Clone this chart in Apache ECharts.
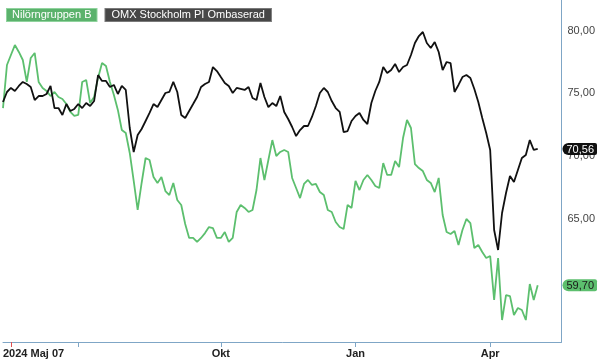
<!DOCTYPE html>
<html>
<head>
<meta charset="utf-8">
<script src="https://cdn.jsdelivr.net/npm/echarts@6/dist/echarts.min.js"></script>
<style>
html,body{margin:0;padding:0;background:#fff;}
#chart{width:600px;height:359px;}
</style>
</head>
<body>
<div id="chart"></div>
<script>
// Series names
const seriesNames = ['Nilörngruppen B', 'OMX Stockholm PI Ombaserad'];

// Nilörngruppen B (rebased), sampled along the trading-day axis
const nilorn = [73.82,77.25,78.05,78.84,78.29,77.65,75.90,77.81,78.21,75.90,75.42,75.18,74.78,75.10,74.70,74.54,74.14,73.51,73.19,73.27,
75.90,76.06,74.22,74.70,76.22,77.41,77.17,75.90,74.86,73.67,72.07,71.83,70.24,68.01,65.70,67.85,69.84,69.68,68.33,67.85,
68.33,67.21,66.89,67.85,66.49,66.10,64.58,63.47,63.47,63.15,63.47,63.86,64.34,64.26,63.47,63.47,63.94,63.15,63.47,65.54,
66.10,65.86,65.54,65.70,67.29,69.84,68.09,69.68,71.27,70.00,70.32,70.48,70.32,68.25,67.45,66.65,67.77,68.09,67.69,67.77,
67.13,66.89,65.70,65.54,64.74,64.34,64.18,66.10,65.86,68.01,67.29,68.09,68.49,68.09,67.61,67.45,69.44,68.49,68.49,69.60,
69.12,71.43,72.87,72.23,69.36,69.04,68.80,68.09,67.85,67.13,68.25,65.30,63.94,63.78,64.02,62.91,64.10,64.98,64.66,62.67,
62.91,62.35,61.87,62.03,58.53,61.87,56.93,58.92,58.84,57.33,57.89,57.73,56.93,59.80,58.53,59.70];

// OMX Stockholm PI Ombaserad
const omx = [74.30,75.10,75.42,75.18,75.58,75.90,75.74,75.50,74.46,74.78,74.78,74.94,75.58,73.82,73.82,73.27,74.14,73.59,73.75,74.14,
73.82,74.22,73.98,74.38,76.45,75.98,75.98,75.50,75.66,74.94,75.58,75.26,72.23,70.32,71.67,72.15,72.79,73.43,74.14,73.90,
74.46,75.02,75.10,75.90,75.10,73.27,73.03,73.59,74.14,74.70,75.50,75.74,75.90,77.09,76.77,76.29,75.82,75.58,75.02,75.42,
75.34,75.26,75.50,74.62,74.46,75.82,74.70,73.90,74.22,73.98,74.78,73.51,72.95,72.31,71.59,72.07,72.39,72.39,73.11,73.98,
75.02,75.42,75.10,74.38,73.82,73.51,71.91,71.99,72.79,73.19,73.43,72.87,72.55,74.22,75.18,75.90,77.09,76.61,76.85,77.33,
76.69,77.09,77.25,78.05,79.00,79.56,79.88,79.00,78.61,79.08,78.29,76.85,77.49,77.41,75.10,75.66,76.29,76.45,76.22,75.34,
74.30,73.03,71.83,70.48,64.10,62.51,65.46,67.05,68.41,67.93,68.88,69.84,70.08,71.27,70.48,70.56];

// x axis: trading-day slots (data + empty room to the right edge)
const slotCount = 142;
const categories = Array.from({length: slotCount}, (_, i) => 'd' + i);
const tickIndex = [19, 55, 89, 123];
const tickLabels = ['', 'Okt', 'Jan', 'Apr'];
const startLabel = '2024 Maj 07';
const startTickIndex = 2;

// y axis
const yMin = 55.18, yMax = 82.43;
const yTicks = [65, 70, 75, 80];

const GREEN = '#5cbf6e';
const BLACK = '#111111';
const AXIS = '#7fa6c6';

const fmt = v => v.toFixed(2).replace('.', ',');
const lastVals = [nilorn[nilorn.length - 1], omx[omx.length - 1]];

const chart = echarts.init(document.getElementById('chart'), null, {renderer: 'canvas'});
chart.setOption({
  animation: false,
  backgroundColor: '#fff',
  grid: {left: 0, right: 35, top: 0, bottom: 17, containLabel: false},
  legend: {
    left: -3, top: 3, icon: 'none', itemWidth: 0, itemHeight: 0, itemGap: 3,
    selectedMode: false,
    textStyle: {fontFamily: 'Liberation Sans, Arial', fontSize: 11, color: '#fff'},
    data: [
      {name: seriesNames[0], textStyle: {backgroundColor: '#5bb26c', borderColor: '#8fd39d', borderWidth: 1, padding: [1, 5, 0, 5], color: '#fff'}},
      {name: seriesNames[1], textStyle: {backgroundColor: '#474747', borderColor: '#7a7a7a', borderWidth: 1, padding: [1, 6, 0, 6], color: '#fff'}}
    ]
  },
  xAxis: [{
    type: 'category', data: categories, boundaryGap: false,
    axisLine: {show: true, lineStyle: {color: AXIS, width: 1}},
    axisTick: {show: true, length: 5, lineStyle: {color: AXIS},
      interval: (i) => tickIndex.includes(i)},
    axisLabel: {
      interval: (i) => tickIndex.includes(i) && tickLabels[tickIndex.indexOf(i)] !== '',
      formatter: (v, i) => { const k = tickIndex.indexOf(i); return k >= 0 ? tickLabels[k] : ''; },
      fontFamily: 'Liberation Sans, Arial', fontSize: 11, fontWeight: 'bold', color: '#222', margin: 6
    },
    splitLine: {show: false}
  }, {
    type: 'category', data: categories, boundaryGap: false, position: 'bottom',
    axisLine: {show: true, lineStyle: {color: AXIS, opacity: 0}},
    axisTick: {show: true, length: 5, lineStyle: {color: '#e05050', width: 1},
      interval: (i) => i === startTickIndex},
    axisLabel: {
      interval: (i) => i === 0,
      formatter: (v, i) => i === 0 ? startLabel : '',
      align: 'left',
      fontFamily: 'Liberation Sans, Arial', fontSize: 11, fontWeight: 'bold', color: '#222', margin: 6
    },
    splitLine: {show: false}
  }],
  yAxis: [{
    type: 'value', position: 'right', min: yMin, max: yMax,
    axisLine: {show: true, lineStyle: {color: AXIS, width: 1}},
    axisTick: {show: false},
    splitLine: {show: false},
    axisLabel: {customValues: yTicks, formatter: v => fmt(v),
      fontFamily: 'Liberation Sans, Arial', fontSize: 11, color: '#444', margin: 6}
  }, {
    type: 'value', position: 'right', min: yMin, max: yMax,
    axisLine: {show: false}, axisTick: {show: false}, splitLine: {show: false},
    axisLabel: {
      customValues: lastVals,
      margin: 1,
      formatter: v => (v === lastVals[0] ? '{g|' : '{k|') + fmt(v) + '}',
      rich: {
        g: {backgroundColor: '#5cbf6e', color: '#1a1a1a', padding: [1, 3, 0, 4], borderRadius: [6, 2, 2, 6], fontSize: 11, fontFamily: 'Liberation Sans, Arial'},
        k: {backgroundColor: '#111', color: '#fff', padding: [1, 3, 0, 4], borderRadius: [6, 2, 2, 6], fontSize: 11, fontFamily: 'Liberation Sans, Arial'}
      }
    }
  }],
  series: [{
    name: seriesNames[0], type: 'line', data: nilorn, showSymbol: false, symbol: 'none',
    lineStyle: {color: GREEN, width: 1.8}, itemStyle: {color: GREEN}, z: 2
  }, {
    name: seriesNames[1], type: 'line', data: omx, showSymbol: false, symbol: 'none',
    lineStyle: {color: BLACK, width: 1.8}, itemStyle: {color: BLACK}, z: 3
  }]
});
</script>
</body>
</html>
